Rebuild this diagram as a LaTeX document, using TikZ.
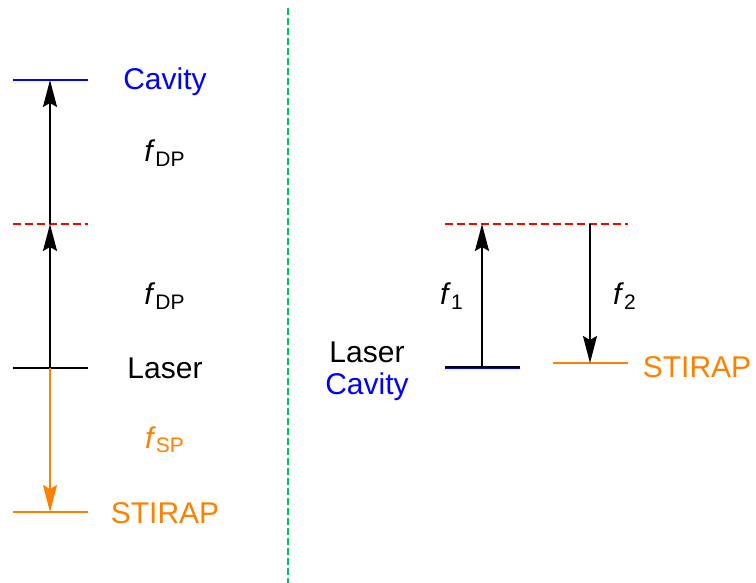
\documentclass[tikz,border=0pt]{standalone}
\usepackage{fontspec}
\setmainfont{Liberation Sans}
\usetikzlibrary{positioning,arrows.meta}
\definecolor{cavblue}{HTML}{0000FF}
\definecolor{stirorange}{HTML}{FF7F00}
\definecolor{virtred}{HTML}{FF0000}
\definecolor{sepgreen}{HTML}{00C462}
\newcommand{\freqsub}[1]{\textit{f}\textsubscript{#1}}

\begin{document}
\begin{tikzpicture}[x=0.5pt, y=-0.5pt,
  font=\fontsize{15}{18}\selectfont,
  lvl/.style={line width=1pt},
  virt/.style={draw=virtred, line width=0.8pt, dash pattern=on 4pt off 2pt},
  lbl/.style={anchor=base, inner sep=0pt},
  arr/.style={-{Stealth[length=13.5pt, width=7pt, inset=2pt]}, line width=1pt}]
\useasboundingbox (0,0) rectangle (756,583);
% left: two-photon scheme
\coordinate (cavL) at (13,80);   \coordinate (cavR) at (88,80);
\coordinate (virL) at (13,224);  \coordinate (virR) at (88,224);
\coordinate (lasL) at (13,368);  \coordinate (lasR) at (88,368);
\coordinate (stiL) at (13,512);  \coordinate (stiR) at (88,512);
\coordinate (cav) at (50,80); \coordinate (vir) at (50,224);
\coordinate (las) at (50,368); \coordinate (sti) at (50,512);
\draw[lvl, cavblue] (cavL) -- (cavR);
\draw[virt] (virL) -- (virR);
\draw[lvl, black] (lasL) -- (lasR);
\draw[lvl, stirorange] (stiL) -- (stiR);
\draw[arr] (las) -- (vir);
\draw[arr] (vir) -- (cav);
\draw[arr, stirorange] (las) -- (sti);
\node[lbl, text=cavblue] (tcav) at (165,89.5) {Cavity};
\node[lbl] (tdp1) at (165,162) {\freqsub{DP}};
\node[lbl] (tdp2) at (165,305) {\freqsub{DP}};
\node[lbl] (tlas) at (165,378) {Laser};
\node[lbl, text=stirorange] (tsp) at (165,448) {\freqsub{SP}};
\node[lbl, text=stirorange] (tsti) at (165,523) {STIRAP};
% separator
\coordinate (sepT) at (288,8); \coordinate (sepB) at (288,583);
\draw[sepgreen, line width=0.8pt, dash pattern=on 3.5pt off 1.5pt] (sepT) -- (sepB);
% right: Raman scheme
\coordinate (rvL) at (445,224); \coordinate (rvR) at (628,224);
\coordinate (rlL) at (445,366.5); \coordinate (rlR) at (520,366.5);
\coordinate (rsL) at (553,363); \coordinate (rsR) at (628,363);
\coordinate (rup0) at (482,366.5); \coordinate (rup1) at (482,224);
\coordinate (rdn0) at (590,224); \coordinate (rdn1) at (590,363);
\draw[virt] (rvL) -- (rvR);
\draw[line width=0.8pt, cavblue] ([yshift=-0.9pt]rlL) -- ([yshift=-0.9pt]rlR);
\draw[lvl, black] (rlL) -- (rlR);
\draw[lvl, stirorange] (rsL) -- (rsR);
\draw[arr] (rup0) -- (rup1);
\draw[arr] (rdn0) -- (rdn1);
\node[lbl] (tf1) at (452,305) {\freqsub{1}};
\node[lbl] (tf2) at (625,305) {\freqsub{2}};
\node[lbl] (trlas) at (367,362) {Laser};
\node[lbl, text=cavblue] (trcav) at (367,394) {Cavity};
\node[lbl, text=stirorange] (trsti) at (697,377) {STIRAP};
\end{tikzpicture}
\end{document}
